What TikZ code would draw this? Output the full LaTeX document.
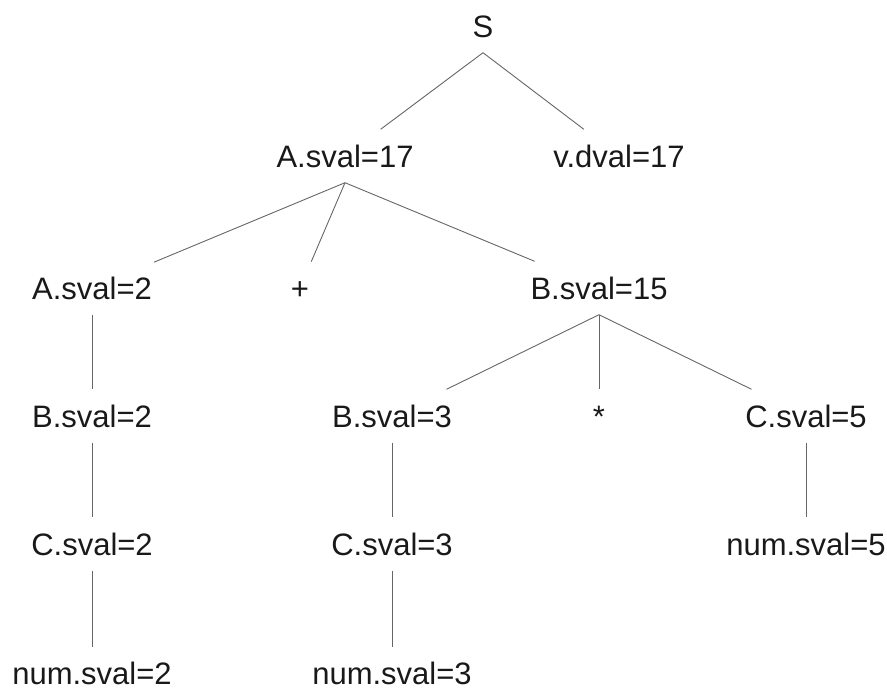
\documentclass[tikz,border=0pt]{standalone}
\usepackage{fontspec}
\setmainfont{Liberation Sans}
\tikzset{
  sym/.style={anchor=base,font=\fontsize{31}{36}\selectfont,text=black!90,
    text height=22pt,text depth=0pt,inner xsep=2pt,inner ysep=15.5pt},
  branch/.style={draw=black!60,line width=0.9pt},
}

\begin{document}
\begin{tikzpicture}[x=1pt,y=-1pt]
  \useasboundingbox (0,0) rectangle (887,689);
  % one row of the tree per level (baseline y)
  \node[sym] (S) at (483,37) {S};
  \foreach \n/\x/\t in {A1/345/{A.sval=17},V/619/{v.dval=17}}
    \node[sym] (\n) at (\x,167) {\t};
  \foreach \n/\x/\t in {A2/92/{A.sval=2},plus/300/{+},B1/599/{B.sval=15}}
    \node[sym] (\n) at (\x,299) {\t};
  \foreach \n/\x/\t in {B2/92/{B.sval=2},B3/392/{B.sval=3},star/599/{*},C5/806/{C.sval=5}}
    \node[sym] (\n) at (\x,427) {\t};
  \foreach \n/\x/\t in {C2/92/{C.sval=2},C3/392/{C.sval=3},N5/806/{num.sval=5}}
    \node[sym] (\n) at (\x,555) {\t};
  \foreach \n/\x/\t in {N2/92/{num.sval=2},N3/392/{num.sval=3}}
    \node[sym] (\n) at (\x,684.5) {\t};
  % branches
  \foreach \c in {A1,V} \draw[branch] (S.south) -- (\c);
  \foreach \c in {A2,plus,B1} \draw[branch] (A1.south) -- (\c);
  \foreach \c in {B3,star,C5} \draw[branch] (B1.south) -- (\c);
  \draw[branch] (A2) -- (B2);
  \draw[branch] (B2) -- (C2);
  \draw[branch] (C2) -- (N2);
  \draw[branch] (B3) -- (C3);
  \draw[branch] (C3) -- (N3);
  \draw[branch] (C5) -- (N5);
\end{tikzpicture}
\end{document}
